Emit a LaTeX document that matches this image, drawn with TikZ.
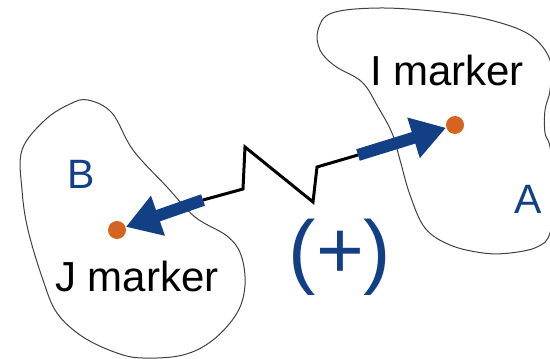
\documentclass[tikz,border=0pt]{standalone}
\usepackage{fontspec}
\setmainfont{Liberation Sans}
\usepackage{tikz}
\usetikzlibrary{arrows.meta}
\definecolor{Navy}{HTML}{133F85}
\definecolor{Rust}{HTML}{D4641E}

\begin{document}
\begin{tikzpicture}[x=0.5pt,y=-0.5pt,
  dot/.style={circle,fill=Rust,inner sep=0pt,minimum size=9pt},
  blob/.style={draw=black!75,line width=0.5pt},
  pull/.style={draw=Navy,line width=6pt,-{Triangle[length=17pt,width=20pt]}},
  every node/.style={font=\fontsize{21}{24}\selectfont}]
\useasboundingbox (0,0) rectangle (550,358);
% body B (left)
\draw[blob] plot[smooth cycle,tension=0.6] coordinates {
 (22,150) (45,120) (70,104) (88,100) (112,113) (133,150) (167,187)
 (195,217) (227,236) (241,255) (245,285) (237,313) (213,340) (183,355)
 (143,358) (117,353) (83,337) (57,313) (43,280) (28,230) (22,190)};
% body A (right)
\draw[blob] plot[smooth cycle,tension=0.6] coordinates {
 (332,13) (380,8) (442,12) (490,20) (530,35) (550,60) (550,90)
 (545,110) (545,133) (550,147) (555,190) (550,233) (537,247) (510,253)
 (483,253) (450,245) (425,228) (410,195) (400,160) (392,133) (378,107)
 (362,82) (335,66) (320,50) (318,30)};
\node[dot] (J) at (117,230) {};
\node[dot] (I) at (455,125) {};
\node[anchor=base] (Jlab) at (137,291) {J marker};
\node[anchor=base] (Ilab) at (447,85) {I marker};
\node[anchor=base,text=Navy,font=\fontsize{20.5}{24}\selectfont] (B) at (81,188) {B};
\node[anchor=base,text=Navy,font=\fontsize{20.5}{24}\selectfont] (A) at (528,213) {A};
\node[anchor=base,text=Navy,font=\fontsize{41}{48}\selectfont] (sign) at (340,278) {(+)};
% spring between the markers
\coordinate (js) at (203,200);
\coordinate (is) at (358,155);
\draw[line width=1.5pt] (js) -- (243,189) -- (245,147) -- (313,202) -- (317,167) -- (is);
\draw[pull] (js) -- (J);
\draw[pull] (is) -- (I);
\end{tikzpicture}
\end{document}
